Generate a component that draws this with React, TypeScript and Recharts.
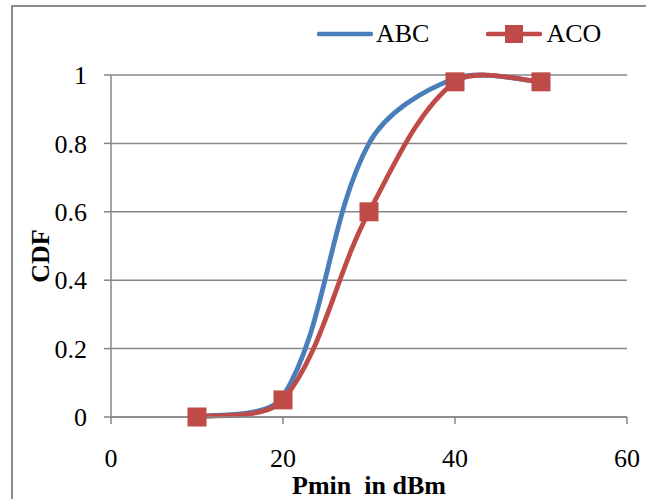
import { LineChart, Line, XAxis, YAxis, CartesianGrid, Legend } from 'recharts'

// values
const pminValues = [10, 20, 30, 40, 50]
const abcCdf = [0, 0.06, 0.8, 0.99, 0.98]
const acoCdf = [0, 0.05, 0.6, 0.98, 0.98]
const xTicks = [0, 20, 40, 60]
const yTicks = [0, 0.2, 0.4, 0.6, 0.8, 1]

const data = pminValues.map((x, i) => ({ x, ABC: abcCdf[i], ACO: acoCdf[i] }))

const FONT = '"Liberation Serif", "Times New Roman", serif'
const GRID = '#878787'
const BLUE = '#4a7ebb'
const RED = '#be4b48'

// Excel-like smoothed line: cubic Bezier, control arms scaled by segment length
function excelSmooth(context: any) {
  let pts: number[][] = []
  const dist = (a: number[], b: number[]) => Math.hypot(b[0] - a[0], b[1] - a[1])
  return {
    areaStart() {},
    areaEnd() {},
    lineStart() {
      pts = []
    },
    point(x: number, y: number) {
      pts.push([+x, +y])
    },
    lineEnd() {
      const n = pts.length
      if (!n) return
      // incoming / outgoing arm vectors at every point
      const arms = pts.map((p, i) => {
        if (i === 0 || i === n - 1) {
          const q = i === 0 ? pts[1] || p : pts[n - 2]
          const t = i === 0 ? [(q[0] - p[0]) / 6, (q[1] - p[1]) / 6] : [(p[0] - q[0]) / 6, (p[1] - q[1]) / 6]
          return { inn: t, out: t }
        }
        const a = pts[i - 1]
        const b = pts[i + 1]
        const tx = b[0] - a[0]
        const ty = b[1] - a[1]
        const dIn = dist(a, p)
        const dOut = dist(p, b)
        const s = dIn + dOut || 1
        return {
          inn: [(tx * dIn) / s / 3, (ty * dIn) / s / 3],
          out: [(tx * dOut) / s / 3, (ty * dOut) / s / 3],
        }
      })
      context.moveTo(pts[0][0], pts[0][1])
      for (let i = 0; i < n - 1; i++) {
        const p1 = pts[i]
        const p2 = pts[i + 1]
        context.bezierCurveTo(
          p1[0] + arms[i].out[0],
          p1[1] + arms[i].out[1],
          p2[0] - arms[i + 1].inn[0],
          p2[1] - arms[i + 1].inn[1],
          p2[0],
          p2[1]
        )
      }
    },
  }
}

const SquareDot = (props: any) => {
  const { cx, cy, index } = props
  if (cx == null || cy == null) return null
  return <rect key={`sq-${index}`} x={cx - 9.5} y={cy - 9.5} width={19} height={19} fill={RED} />
}

const LegendBox = () => (
  <div style={{ display: 'flex', alignItems: 'center', fontFamily: FONT, fontSize: 26, color: '#000' }}>
    <svg width={56} height={20}>
      <line x1={2} y1={10} x2={54} y2={10} stroke={BLUE} strokeWidth={4.5} strokeLinecap="round" />
    </svg>
    <span style={{ marginLeft: 3, lineHeight: '20px' }}>ABC</span>
    <svg width={56} height={20} style={{ marginLeft: 57 }}>
      <line x1={2} y1={10} x2={54} y2={10} stroke={RED} strokeWidth={4.5} strokeLinecap="round" />
      <rect x={19} y={1} width={18} height={18} fill={RED} />
    </svg>
    <span style={{ marginLeft: 4, lineHeight: '20px' }}>ACO</span>
  </div>
)

const CdfLabel = (props: any) => {
  const vb = props.viewBox || { x: 0, y: 0, width: 0, height: 0 }
  const x = vb.x + 40
  const y = vb.y + vb.height / 2 + 10
  return (
    <text
      x={x}
      y={y}
      transform={`rotate(-90 ${x} ${y})`}
      textAnchor="middle"
      dominantBaseline="central"
      fontFamily={FONT}
      fontSize={26}
      fontWeight="bold"
      fill="#000"
    >
      CDF
    </text>
  )
}

const PminLabel = (props: any) => {
  const vb = props.viewBox || { x: 0, y: 0, width: 0, height: 0 }
  return (
    <text
      x={vb.x + vb.width / 2}
      y={vb.y + 77}
      textAnchor="middle"
      fontFamily={FONT}
      fontSize={26}
      fontWeight="bold"
      fill="#000"
      style={{ whiteSpace: 'pre' }}
    >
      {'Pmin  in dBm'}
    </text>
  )
}

export default function App() {
  return (
    <div style={{ position: 'absolute', left: 0, top: 0, width: 646, height: 499, overflow: 'hidden', background: '#fff' }}>
      {/* chart area border, runs off the picture on the right and bottom */}
      <div
        style={{
          position: 'absolute',
          left: 11,
          top: 5,
          width: 900,
          height: 900,
          border: '2px solid #8c8c8c',
        }}
      />
      <div style={{ position: 'absolute', left: 0, top: 0 }}>
        <LineChart width={646} height={499} data={data} margin={{ top: 75, right: 19, left: 0, bottom: 42 }}>
          <CartesianGrid vertical={false} stroke={GRID} strokeWidth={1.5} />
          <XAxis
            dataKey="x"
            type="number"
            domain={[0, 60]}
            ticks={xTicks}
            height={40}
            stroke={GRID}
            strokeWidth={1.5}
            tickSize={7}
            tickMargin={25}
            tick={{ fill: '#000', fontSize: 26, fontFamily: FONT }}
            label={<PminLabel />}
          />
          <YAxis
            type="number"
            domain={[0, 1]}
            ticks={yTicks}
            width={111}
            stroke={GRID}
            strokeWidth={1.5}
            tickSize={7}
            tickMargin={17}
            tick={{ fill: '#000', fontSize: 26, fontFamily: FONT }}
            label={<CdfLabel />}
          />
          <Legend
            layout="horizontal"
            verticalAlign="middle"
            align="center"
            wrapperStyle={{ top: 24, left: 317, width: 'auto' }}
            content={<LegendBox />}
          />
          <Line
            dataKey="ABC"
            type={excelSmooth as any}
            stroke={BLUE}
            strokeWidth={4.8}
            dot={false}
            activeDot={false}
            isAnimationActive={false}
          />
          <Line
            dataKey="ACO"
            type={excelSmooth as any}
            stroke={RED}
            strokeWidth={4.8}
            dot={SquareDot}
            activeDot={false}
            isAnimationActive={false}
          />
        </LineChart>
      </div>
    </div>
  )
}
